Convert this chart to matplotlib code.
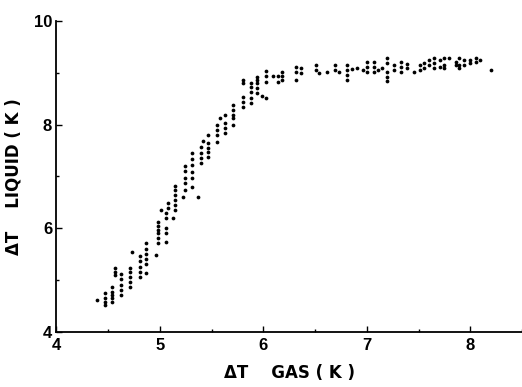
#!/usr/bin/env python3

import numpy as np
import matplotlib.pyplot as plt
from matplotlib.ticker import MultipleLocator


# Points were measured in vertical columns: one gas dT, several liquid dT values
GAS_DT = [
    4.39, 4.47, 4.54, 4.57, 4.62, 4.71, 4.73, 4.81, 4.87, 4.96,
    4.98, 5.01, 5.06, 5.08, 5.13, 5.15, 5.22, 5.24, 5.31, 5.37,
    5.40, 5.42, 5.47, 5.55, 5.58, 5.63, 5.71, 5.80, 5.88, 5.94,
    5.99, 6.03, 6.09, 6.14, 6.18, 6.32, 6.36, 6.51, 6.54, 6.62,
    6.69, 6.73, 6.81, 6.86, 6.91, 6.96, 7.00, 7.07, 7.11, 7.15,
    7.20, 7.26, 7.33, 7.39, 7.46, 7.51, 7.55, 7.60, 7.65, 7.71,
    7.75, 7.79, 7.86, 7.89, 7.94, 8.00, 8.06, 8.09, 8.20,
]
LIQUID_DT = [
    [4.62],
    [4.75, 4.66, 4.58, 4.52],
    [4.87, 4.77, 4.71, 4.66, 4.58],
    [5.23, 5.16, 5.10],
    [5.12, 5.02, 4.91, 4.81, 4.71],
    [5.23, 5.16, 5.06, 4.96, 4.87],
    [5.54],
    [5.46, 5.37, 5.25, 5.16, 5.06],
    [5.71, 5.60, 5.50, 5.41, 5.31, 5.14],
    [5.48],
    [6.12, 6.04, 5.97, 5.91, 5.81, 5.71],
    [6.35],
    [6.29, 6.20, 6.00, 5.91, 5.73],
    [6.49, 6.39],
    [6.20],
    [6.81, 6.74, 6.64, 6.54, 6.45, 6.35],
    [6.60],
    [7.20, 7.10, 6.97, 6.87, 6.74],
    [7.45, 7.33, 7.22, 7.08, 6.97, 6.79],
    [6.60],
    [7.56, 7.45, 7.35, 7.26],
    [7.68],
    [7.80, 7.64, 7.55, 7.47, 7.37],
    [7.99, 7.89, 7.80, 7.66],
    [8.12],
    [8.18, 8.03, 7.93, 7.83],
    [8.37, 8.28, 8.18, 8.12, 7.99],
    [8.86, 8.80, 8.53, 8.43, 8.34],
    [8.80, 8.72, 8.62, 8.51, 8.41],
    [8.91, 8.86, 8.80, 8.70, 8.60],
    [8.55],
    [9.03, 8.93, 8.82, 8.51],
    [8.93],
    [8.93, 8.82],
    [9.01, 8.93, 8.86],
    [9.11, 9.01, 8.86],
    [9.09, 8.99],
    [9.14, 9.05],
    [8.99],
    [9.01],
    [9.14, 9.05],
    [9.01],
    [9.14, 9.05, 8.95, 8.86],
    [9.07],
    [9.09],
    [9.05],
    [9.20, 9.11, 9.01],
    [9.20, 9.11, 9.01],
    [9.05],
    [9.09],
    [9.28, 9.18, 9.01, 8.91, 8.84],
    [9.14, 9.05],
    [9.20, 9.11, 9.01],
    [9.16, 9.09],
    [9.01],
    [9.14, 9.05],
    [9.18, 9.09],
    [9.24, 9.14],
    [9.28, 9.18, 9.09],
    [9.24, 9.11],
    [9.28, 9.14, 9.09],
    [9.28],
    [9.20, 9.14],
    [9.28, 9.14, 9.09],
    [9.24, 9.14],
    [9.24, 9.18],
    [9.28, 9.20],
    [9.24],
    [9.05],
]

X_TICKS = [4, 5, 6, 7, 8]
Y_TICKS = [4, 6, 8, 10]


if __name__ == "__main__":
    plt.rcParams['font.family'] = ['Liberation Sans', 'DejaVu Sans']
    plt.rcParams['font.weight'] = 'bold'

    x = np.concatenate([[g] * len(ys) for g, ys in zip(GAS_DT, LIQUID_DT)])
    y = np.concatenate(LIQUID_DT)

    fig = plt.figure(figsize=(5.22, 3.87), dpi=100)
    ax = fig.add_axes([0.108, 0.142, 0.892, 0.804])

    ax.plot(x, y, 'o', color='black', ms=2.7, mew=0)

    ax.set_xlim(4, 8.5)
    ax.set_ylim(4, 10)
    ax.set_xticks(X_TICKS)
    ax.set_yticks(Y_TICKS)
    ax.xaxis.set_minor_locator(MultipleLocator(0.5))
    ax.yaxis.set_minor_locator(MultipleLocator(1))
    ax.tick_params(which='both', direction='in', width=1, labelsize=12)
    ax.tick_params(which='major', length=4)
    ax.tick_params(which='minor', length=2)
    ax.tick_params(axis='x', pad=4)
    ax.tick_params(axis='y', pad=3)

    for side in ('top', 'right'):
        ax.spines[side].set_visible(False)
    for side in ('left', 'bottom'):
        ax.spines[side].set_linewidth(1.3)

    lab = dict(fontsize=12, fontweight='bold', family='DejaVu Sans')
    ax.set_xlabel('ΔT    GAS ( K )', labelpad=8, **lab)
    ax.set_ylabel('ΔT    LIQUID ( K )', labelpad=8, **lab)

    plt.savefig('out.png', dpi=100)
